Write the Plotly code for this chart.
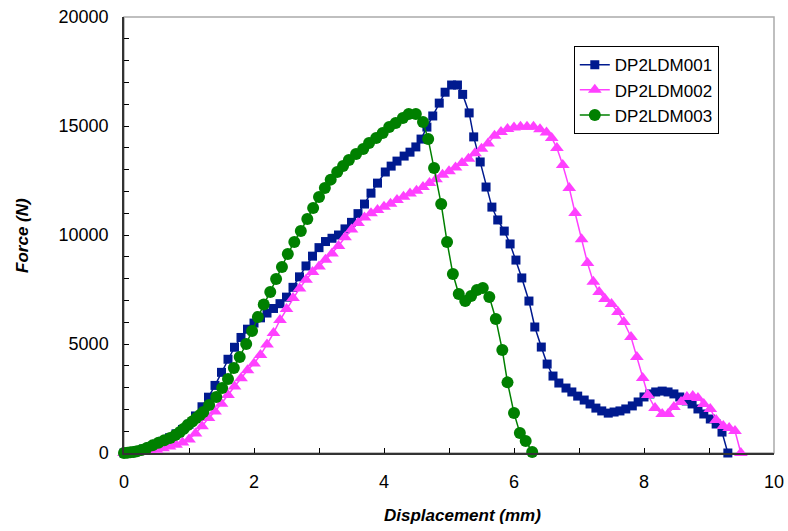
import plotly.graph_objects as go

# DP2LDM001
x1 = [0, 0.1, 0.2, 0.3, 0.4, 0.5, 0.6, 0.7, 0.8, 0.9, 1.0, 1.1, 1.2, 1.3, 1.4, 1.5, 1.6, 1.7, 1.8, 1.9,
      2.0, 2.1, 2.2, 2.3, 2.4, 2.5, 2.6, 2.7, 2.8, 2.9, 3.0, 3.1, 3.2, 3.3, 3.4, 3.5, 3.6, 3.7, 3.8, 3.9,
      4.02, 4.11, 4.2, 4.31, 4.4, 4.49, 4.57, 4.66, 4.75, 4.85, 4.94, 5.04, 5.13, 5.21,
      5.31, 5.38, 5.48, 5.57, 5.66, 5.75, 5.85, 5.94, 6.03, 6.12, 6.23, 6.32, 6.42, 6.51, 6.6, 6.69,
      6.8, 6.89, 6.98, 7.08, 7.17, 7.26, 7.35, 7.45, 7.54, 7.63, 7.72, 7.82, 7.91, 8.0, 8.09, 8.18,
      8.28, 8.37, 8.46, 8.55, 8.65, 8.74, 8.83, 8.92, 9.02, 9.11, 9.2, 9.29]
y1 = [0, 30, 100, 180, 280, 400, 540, 700, 880, 1080, 1320, 1700, 2120, 2560, 3100, 3700, 4300, 4850, 5300, 5680,
      5960, 6200, 6420, 6630, 6850, 7150, 7600, 8080, 8580, 9030, 9420, 9700, 9850, 10000, 10280, 10580, 10980, 11420, 11920, 12380,
      12890, 13160, 13390, 13620, 13800, 14040, 14400, 14950, 15460, 16050, 16550, 16880, 16880, 16450,
      15600, 14500, 13350, 12200, 11280, 10690, 10180, 9590, 8850, 8030, 6970, 5780, 4860, 4080, 3530, 3210,
      2980, 2800, 2610, 2430, 2250, 2060, 1930, 1830, 1880, 1930, 2020, 2160, 2340, 2570, 2710, 2800,
      2840, 2800, 2710, 2570, 2390, 2250, 2020, 1790, 1560, 1330, 960, 0]

# DP2LDM002
x2 = [0, 0.1, 0.2, 0.3, 0.4, 0.5, 0.6, 0.7, 0.8, 0.9, 1.0, 1.1, 1.2, 1.3, 1.4, 1.5, 1.6, 1.7, 1.8, 1.9,
      2.0, 2.1, 2.2, 2.3, 2.4, 2.5, 2.6, 2.7, 2.8, 2.9, 3.0, 3.1, 3.2, 3.3, 3.4, 3.5, 3.6, 3.7, 3.8, 3.9,
      4.0, 4.1, 4.2, 4.3, 4.4, 4.5, 4.6, 4.7, 4.8, 4.9, 5.0, 5.1, 5.2, 5.3, 5.4, 5.5, 5.6, 5.7, 5.8, 5.9,
      6.0, 6.1, 6.2, 6.3, 6.4, 6.5, 6.58, 6.66, 6.75, 6.85, 6.94, 7.04, 7.13, 7.22, 7.31, 7.4, 7.5, 7.6,
      7.69, 7.8, 7.89, 7.98, 8.06, 8.17, 8.28, 8.37, 8.46, 8.57, 8.66, 8.75, 8.83, 8.92, 9.02, 9.11,
      9.22, 9.31, 9.4, 9.49]
y2 = [0, 10, 30, 60, 100, 150, 220, 300, 380, 480, 620, 900, 1230, 1600, 1900, 2260, 2660, 3050, 3430, 3800,
      4100, 4500, 4980, 5500, 6100, 6600, 7110, 7550, 7950, 8300, 8550, 8870, 9150, 9500, 9900, 10250, 10550, 10800, 11000, 11150,
      11300, 11430, 11600, 11750, 11900, 12030, 12200, 12380, 12560, 12760, 12930, 13100, 13300, 13500, 13750, 13960, 14200, 14550, 14720, 14860,
      14930, 14970, 14970, 14960, 14850, 14700, 14450, 13990, 13210, 12160, 11010, 9800, 8720, 7860, 7380, 7060, 6830, 6470,
      6010, 5320, 4400, 3440, 2660, 2060, 1790, 1790, 2110, 2340, 2570, 2610, 2520, 2250, 2020, 1510,
      1240, 1150, 1010, 0]

# DP2LDM003
x3 = [0, 0.05, 0.1, 0.15, 0.2, 0.27, 0.35, 0.44, 0.53, 0.62, 0.71, 0.79, 0.86, 0.92, 0.98, 1.05, 1.11, 1.17, 1.22,
      1.31, 1.42, 1.51, 1.6, 1.69, 1.78, 1.88, 1.97, 2.06, 2.15, 2.25, 2.34, 2.43, 2.52, 2.62, 2.72, 2.82, 2.91,
      3.0, 3.09, 3.18, 3.28, 3.37, 3.46, 3.57, 3.68, 3.77, 3.88, 3.98, 4.08, 4.18, 4.29, 4.38, 4.49, 4.6, 4.68,
      4.77, 4.88, 4.97, 5.06, 5.15, 5.25, 5.34, 5.43, 5.52, 5.62, 5.72, 5.82, 5.9, 6.0, 6.09, 6.18, 6.28]
y3 = [0, 10, 30, 50, 80, 140, 230, 350, 470, 580, 690, 820, 960, 1110, 1280, 1440, 1600, 1740, 1880,
      2200, 2570, 2980, 3390, 3900, 4400, 5000, 5600, 6240, 6810, 7390, 7980, 8530, 9130, 9680, 10180, 10730, 11240,
      11740, 12160, 12540, 12890, 13160, 13440, 13720, 13940, 14220, 14450, 14680, 14950, 15140, 15370, 15550, 15550, 15180, 14400,
      13070, 11420, 9680, 8210, 7290, 6970, 7200, 7480, 7570, 7160, 6150, 4720, 3240, 1830, 920, 550, 50]

names = ["DP2LDM001", "DP2LDM002", "DP2LDM003"]
colors = ["#001A8F", "#FF40FF", "#008000"]
x_title = "Displacement (mm)"
y_title = "Force (N)"

fig = go.Figure()
fig.add_trace(go.Scatter(x=x1, y=y1, name=names[0], mode="lines+markers", cliponaxis=False,
                         line=dict(color=colors[0], width=1.5),
                         marker=dict(symbol="square", size=9, color=colors[0])))
fig.add_trace(go.Scatter(x=x2, y=y2, name=names[1], mode="lines+markers", cliponaxis=False,
                         line=dict(color=colors[1], width=1.5),
                         marker=dict(symbol="triangle-up", size=12, color=colors[1])))
fig.add_trace(go.Scatter(x=x3, y=y3, name=names[2], mode="lines+markers", cliponaxis=False,
                         line=dict(color=colors[2], width=1.5),
                         marker=dict(symbol="circle", size=12, color=colors[2])))

fig.add_shape(type="rect", xref="paper", yref="paper", x0=0, y0=0, x1=1, y1=1,
              line=dict(color="#AAAAAA", width=1.5), layer="below")

fig.add_annotation(text="<b><i>" + x_title + "</i></b>", xref="paper", yref="paper",
                   x=0.52, y=-0.143, xanchor="center", yanchor="middle", showarrow=False,
                   font=dict(size=17))
fig.add_annotation(text="<b><i>" + y_title + "</i></b>", xref="paper", yref="paper",
                   x=-0.157, y=0.5, xanchor="center", yanchor="middle", showarrow=False,
                   textangle=-90, font=dict(size=17))

font_family = "Liberation Sans, Arial, sans-serif"
fig.update_layout(
    width=788, height=531,
    margin=dict(l=124, r=14, t=17, b=78, autoexpand=False),
    plot_bgcolor="white", paper_bgcolor="white",
    font=dict(family=font_family, size=18, color="black"),
    showlegend=True,
    legend=dict(x=0.692, y=0.933, xanchor="left", yanchor="top",
                bordercolor="black", borderwidth=1, bgcolor="white",
                font=dict(size=17), tracegroupgap=0, itemwidth=30),
    xaxis=dict(range=[0, 10], dtick=2, tick0=0, showgrid=False, zeroline=False,
               showline=True, linecolor="#333333", linewidth=1.5, automargin=False,
               ticks="inside", ticklen=5, tickcolor="black", tickfont=dict(size=18),
               ticklabelstandoff=12,
               minor=dict(dtick=1, ticks="inside", ticklen=5, tickcolor="black")),
    yaxis=dict(range=[0, 20000], dtick=5000, tick0=0, showgrid=False, zeroline=False,
               showline=True, linecolor="#333333", linewidth=1.5, automargin=False,
               ticks="inside", ticklen=5, tickcolor="black", tickfont=dict(size=18),
               tickformat="d", ticklabelstandoff=10,
               minor=dict(dtick=1000, ticks="inside", ticklen=5, tickcolor="black")),
)

fig.write_html("out.html")
